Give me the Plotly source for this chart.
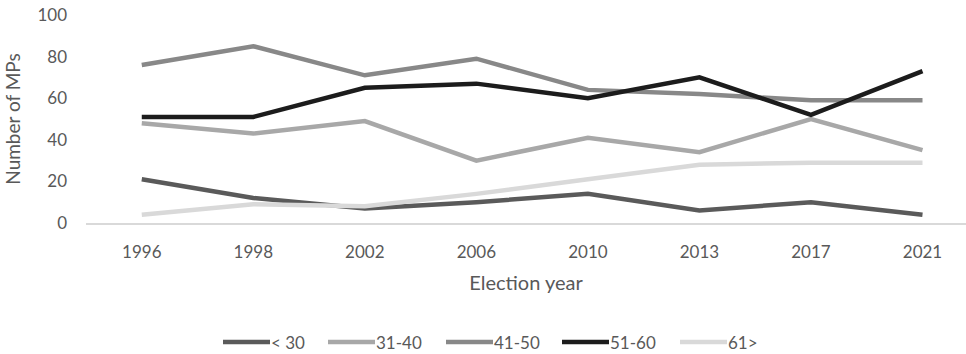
import plotly.graph_objects as go

# Election years (category axis)
years = ["1996", "1998", "2002", "2006", "2010", "2013", "2017", "2021"]

# Number of MPs per age group
under_30 = [21, 12, 7, 10, 14, 6, 10, 4]
age_31_40 = [48, 43, 49, 30, 41, 34, 50, 35]
age_41_50 = [76, 85, 71, 79, 64, 62, 59, 59]
age_51_60 = [51, 51, 65, 67, 60, 70, 52, 73]
over_61 = [4, 9, 8, 14, 21, 28, 29, 29]

series = [
    ("< 30", under_30, "#5a5a5a"),
    ("31-40", age_31_40, "#a8a8a8"),
    ("41-50", age_41_50, "#888888"),
    ("51-60", age_51_60, "#1c1c1c"),
    ("61>", over_61, "#d9d9d9"),
]

FONT = "Lato"
TEXT = "#595959"

W, H = 966, 354
ML, MT, MB = 86, 15, 131
PW, PH = W - ML, H - MT - MB


def px_to_paper(px, py):
    return (px - ML) / PW, (H - MB - py) / PH


fig = go.Figure()
for name, vals, color in series:
    fig.add_trace(go.Scatter(
        x=years, y=vals, name=name, mode="lines",
        line=dict(color=color, width=4.5),
        showlegend=False,
    ))

# Legend row below the axis title: a short line swatch followed by its label
legend_left = [223, 328, 446, 562, 680]
swatch_len = 47
legend_y = 342
shapes, annotations = [], []
for (name, _, color), left in zip(series, legend_left):
    x0, y0 = px_to_paper(left, legend_y)
    x1, _ = px_to_paper(left + swatch_len, legend_y)
    shapes.append(dict(type="line", xref="paper", yref="paper",
                       x0=x0, x1=x1, y0=y0, y1=y0,
                       line=dict(color=color, width=4.5)))
    annotations.append(dict(xref="paper", yref="paper", x=x1, y=y0,
                            xanchor="left", yanchor="middle", showarrow=False,
                            text=name, borderpad=0,
                            font=dict(family=FONT, size=17, color=TEXT)))

fig.update_layout(
    width=W, height=H,
    margin=dict(l=ML, r=0, t=MT, b=MB),
    paper_bgcolor="white", plot_bgcolor="white",
    font=dict(family=FONT, size=17, color=TEXT),
    showlegend=False,
    shapes=shapes, annotations=annotations,
)

fig.update_xaxes(
    type="category", range=[-0.5, 7.39],
    showgrid=False, zeroline=False,
    showline=True, linecolor="#d9d9d9", linewidth=1.5,
    ticks="", ticklabelstandoff=13,
    tickfont=dict(family=FONT, size=17, color=TEXT),
    title=dict(text="Election year", standoff=15,
               font=dict(family=FONT, size=20, color=TEXT)),
)
fig.update_yaxes(
    range=[0, 100], tickvals=[0, 20, 40, 60, 80, 100],
    showgrid=False, zeroline=False, showline=False,
    ticks="", ticklabelstandoff=18,
    tickfont=dict(family=FONT, size=17, color=TEXT),
    title=dict(text="Number of MPs", standoff=11,
               font=dict(family=FONT, size=19, color=TEXT)),
)

fig.write_html("out.html")
